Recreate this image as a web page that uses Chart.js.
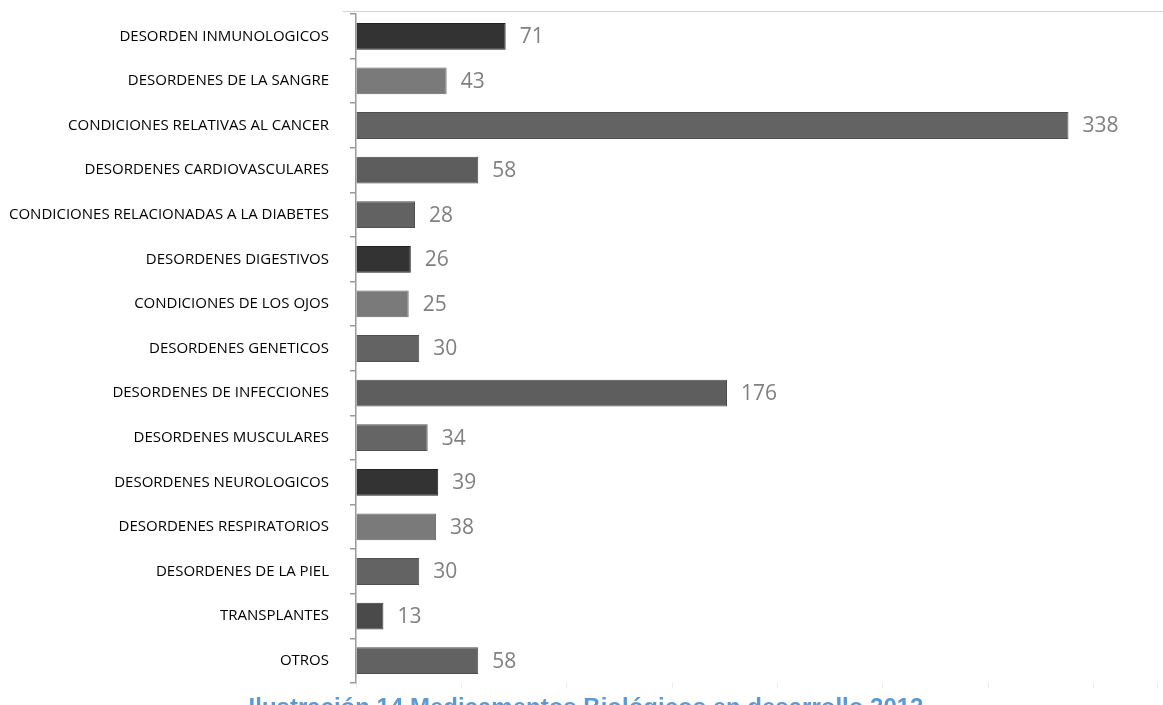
<!DOCTYPE html>
<html>
<head>
<meta charset="utf-8">
<script src="https://cdn.jsdelivr.net/npm/chart.js@4.4.1/dist/chart.umd.min.js"></script>
<style>
  html, body { margin: 0; padding: 0; background: #ffffff; }
  #wrap { position: relative; width: 1163px; height: 705px; overflow: hidden; }
</style>
</head>
<body>
<div id="wrap"><canvas id="c" width="1163" height="705"></canvas></div>
<script>
const categories = [
  "DESORDEN INMUNOLOGICOS",
  "DESORDENES DE LA SANGRE",
  "CONDICIONES RELATIVAS AL CANCER",
  "DESORDENES CARDIOVASCULARES",
  "CONDICIONES RELACIONADAS A LA DIABETES",
  "DESORDENES DIGESTIVOS",
  "CONDICIONES DE LOS OJOS",
  "DESORDENES GENETICOS",
  "DESORDENES DE INFECCIONES",
  "DESORDENES MUSCULARES",
  "DESORDENES NEUROLOGICOS",
  "DESORDENES RESPIRATORIOS",
  "DESORDENES DE LA PIEL",
  "TRANSPLANTES",
  "OTROS"
];
const values = [71, 43, 338, 58, 28, 26, 25, 30, 176, 34, 39, 38, 30, 13, 58];
const barColors = [
  "#333333", "#7a7a7a", "#636363", "#5d5d5d", "#626262",
  "#333333", "#7a7a7a", "#636363", "#5e5e5e", "#656565",
  "#333333", "#7a7a7a", "#636363", "#4a4a4a", "#626262"
];
const borderColors = [
  "#222222", "#666666", "#505050", "#4a4a4a", "#4f4f4f",
  "#222222", "#666666", "#505050", "#4b4b4b", "#525252",
  "#222222", "#666666", "#505050", "#383838", "#4f4f4f"
];
const captionText = "Ilustración 14 Medicamentos Biológicos en desarrollo 2012";

const valueLabels = {
  id: "valueLabels",
  afterDatasetsDraw(chart) {
    const ctx = chart.ctx;
    const meta = chart.getDatasetMeta(0);
    ctx.save();
    ctx.font = "21px 'Open Sans'";
    ctx.fillStyle = "#808080";
    ctx.textAlign = "left";
    ctx.textBaseline = "middle";
    meta.data.forEach((bar, i) => {
      ctx.fillText(String(values[i]), bar.x + 14, bar.y + 1);
    });
    ctx.restore();
  }
};

const extras = {
  id: "extras",
  afterDraw(chart) {
    const ctx = chart.ctx;
    ctx.save();
    ctx.strokeStyle = "#d4d4d4";
    ctx.lineWidth = 1;
    ctx.beginPath();
    ctx.moveTo(343, 11.5);
    ctx.lineTo(1163, 11.5);
    ctx.stroke();
    ctx.font = "bold 24px 'Liberation Sans', Arial, sans-serif";
    ctx.fillStyle = "#5b9bd5";
    ctx.textAlign = "center";
    ctx.textBaseline = "alphabetic";
    ctx.fillText(captionText, 586, 715);
    ctx.restore();
  }
};

new Chart(document.getElementById("c"), {
  type: "bar",
  data: {
    labels: categories,
    datasets: [{
      data: values,
      backgroundColor: barColors,
      borderColor: borderColors,
      borderWidth: 1,
      barPercentage: 0.6,
      categoryPercentage: 1.0
    }]
  },
  options: {
    indexAxis: "y",
    responsive: false,
    animation: false,
    events: [],
    layout: { padding: { left: 0, right: 6, top: 14, bottom: 0 } },
    plugins: {
      legend: { display: false },
      tooltip: { enabled: false },
      title: { display: false }
    },
    scales: {
      x: {
        position: "bottom",
        min: 0,
        max: 380,
        ticks: { display: false, stepSize: 50 },
        grid: { drawOnChartArea: false, drawTicks: true, tickLength: 5, color: "#ececec" },
        border: { display: false },
        afterFit(scale) { scale.height = 22; scale.paddingLeft = 0; scale.paddingRight = 0; }
      },
      y: {
        offset: true,
        ticks: {
          color: "#000000",
          font: { family: "'Open Sans'", size: 15 },
          padding: 21,
          autoSkip: false
        },
        grid: { drawOnChartArea: false, drawTicks: true, tickLength: 6, offset: true, color: "#9a9a9a", lineWidth: 1.5 },
        border: { display: true, color: "#9a9a9a", width: 1.5 },
        afterFit(scale) { scale.width = 356; scale.paddingTop = 0; scale.paddingBottom = 0; }
      }
    }
  },
  plugins: [valueLabels, extras]
});
</script>
</body>
</html>
